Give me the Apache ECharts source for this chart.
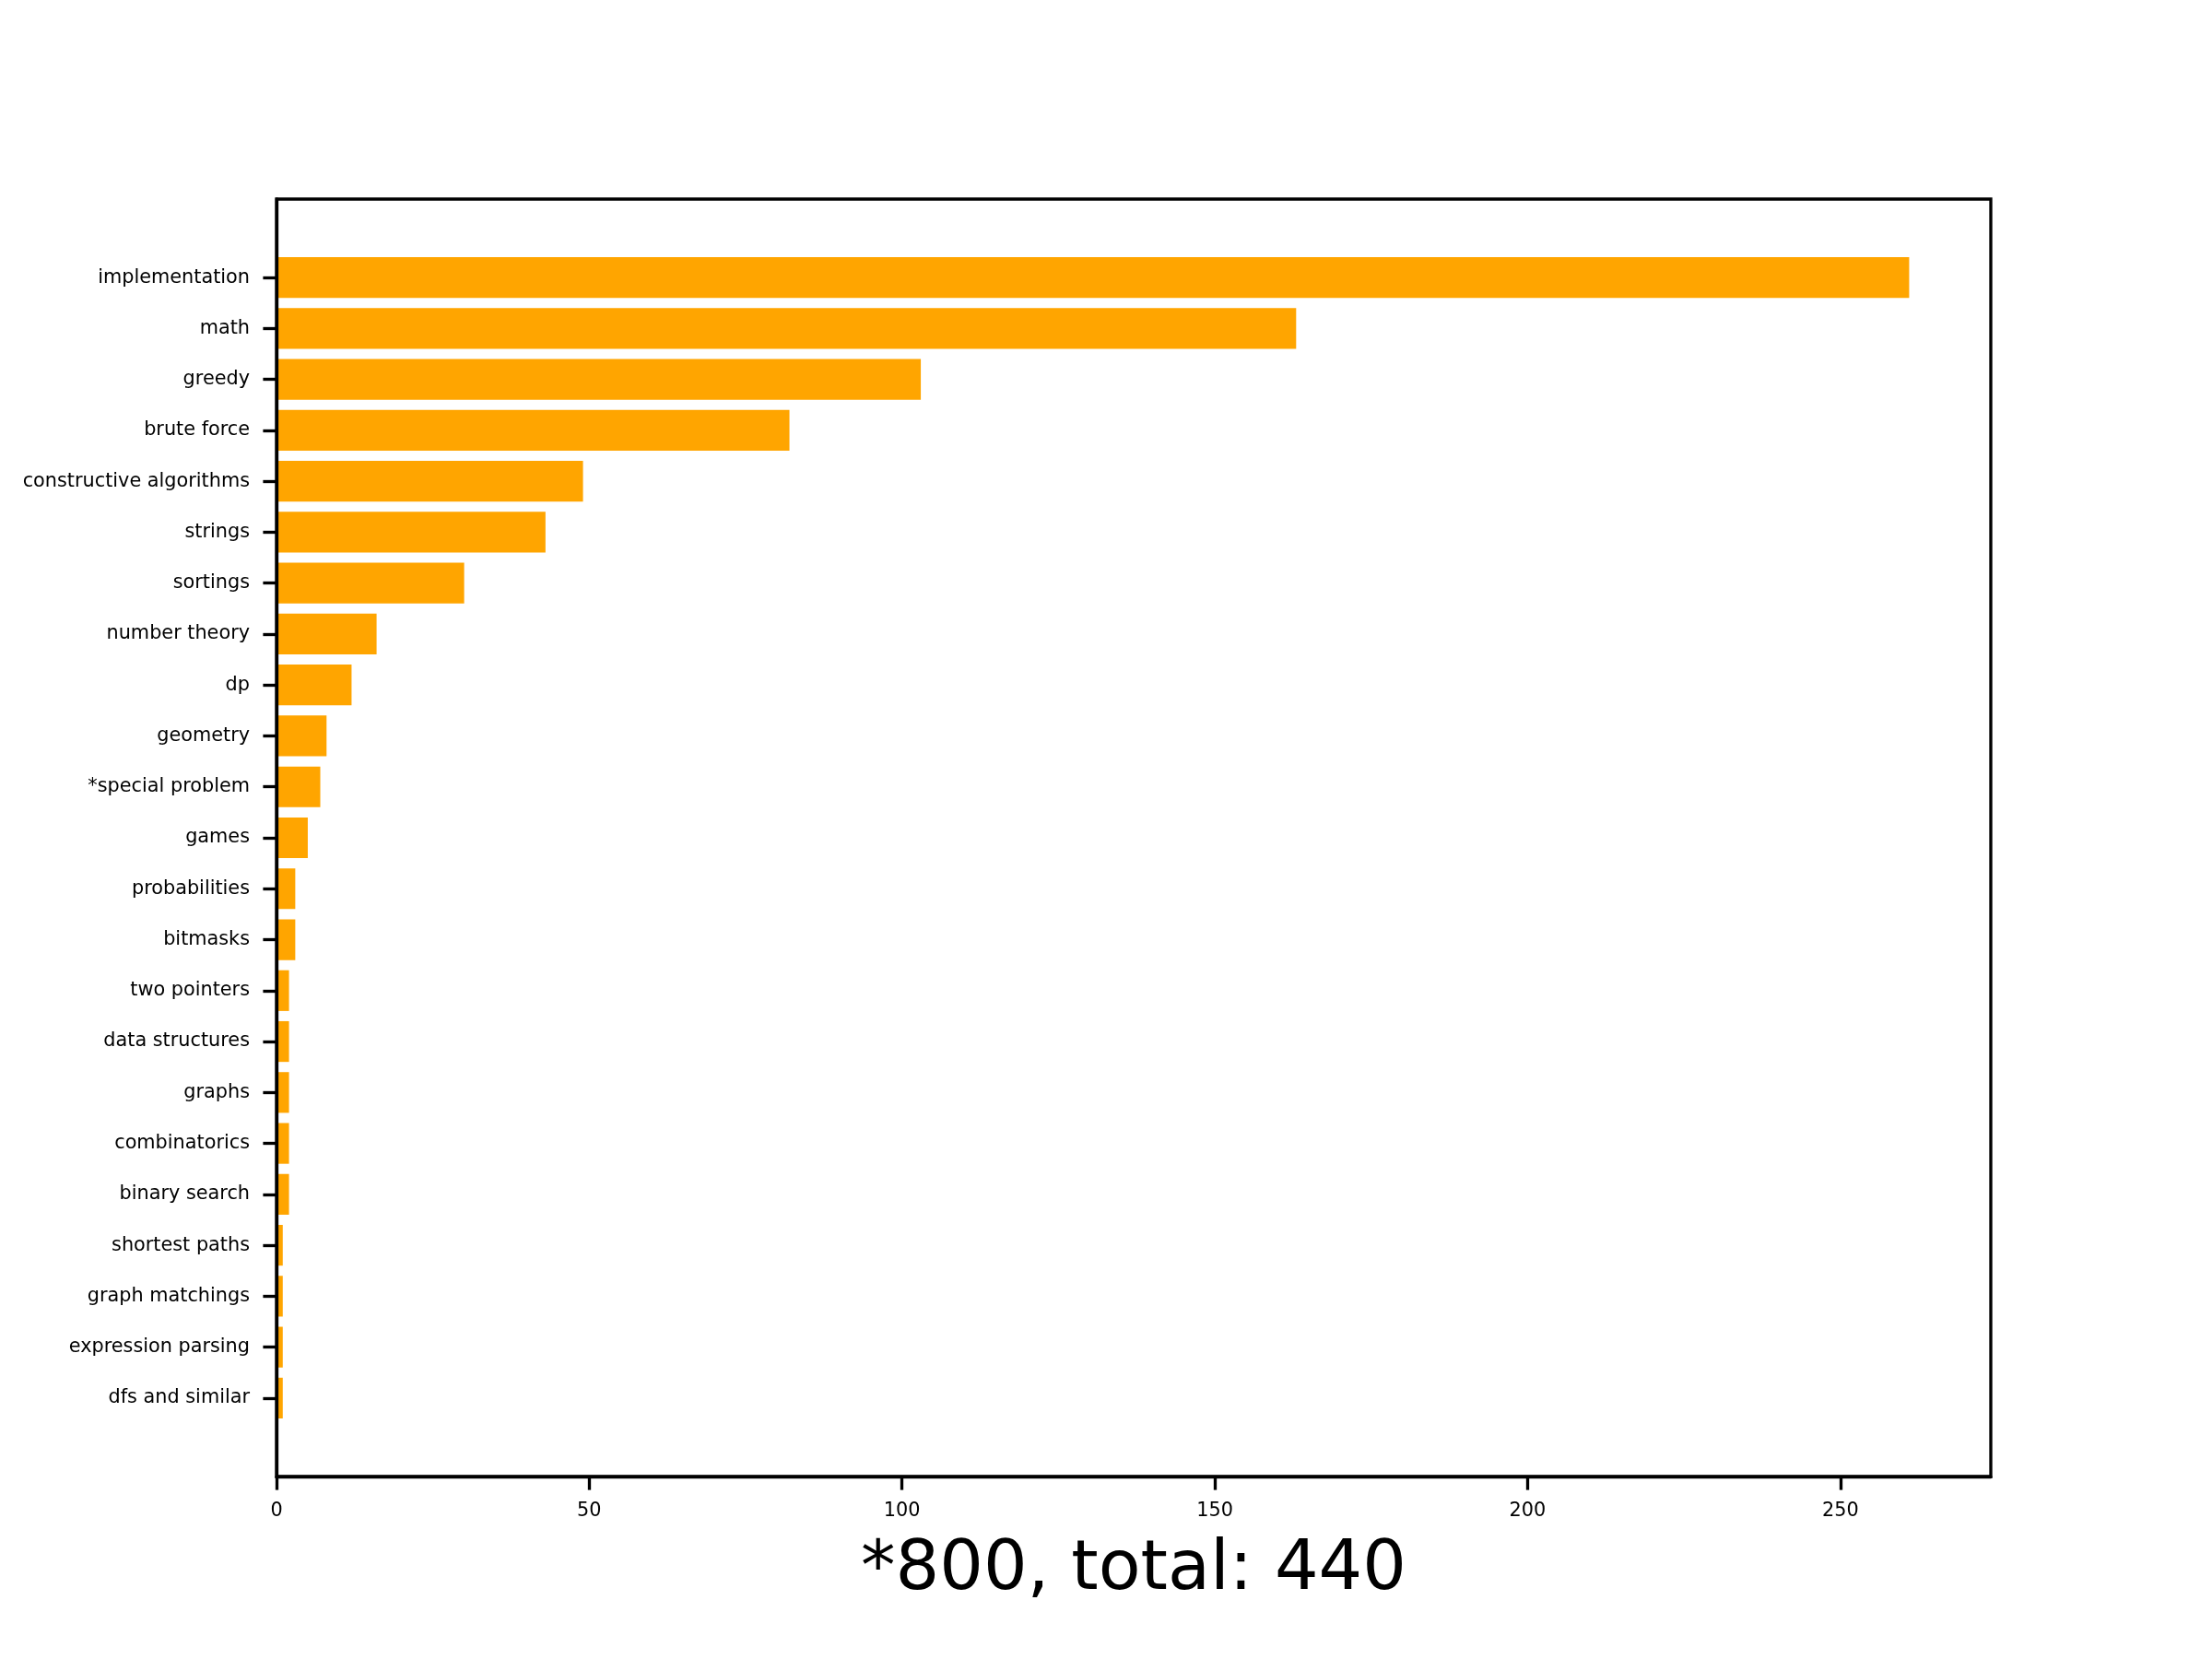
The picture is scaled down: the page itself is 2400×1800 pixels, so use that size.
<!DOCTYPE html>
<html>
<head>
<meta charset="utf-8">
<script src="https://cdn.jsdelivr.net/npm/echarts@6/dist/echarts.min.js"></script>
<style>html,body{margin:0;padding:0;background:#fff;}#c{width:2400px;height:1800px;}</style>
</head>
<body>
<div id="c"></div>
<script>
const categories = ["implementation","math","greedy","brute force","constructive algorithms","strings","sortings","number theory","dp","geometry","*special problem","games","probabilities","bitmasks","two pointers","data structures","graphs","combinatorics","binary search","shortest paths","graph matchings","expression parsing","dfs and similar"];
const counts = [261,163,103,82,49,43,30,16,12,8,7,5,3,3,2,2,2,2,2,1,1,1,1];
const xTicks = [0,50,100,150,200,250];
const xLabel = "*800, total: 440";

const FONT = "DejaVu Sans";
const xMax = Math.max(...counts) * 1.05;
const chart = echarts.init(document.getElementById('c'));
const lw = 3.33, tl = 14.6;
chart.setOption({
  animation: false,
  backgroundColor: '#fff',
  grid: [
    {left: 300, right: 240, top: 216, bottom: 198, show: true, borderColor: '#000', borderWidth: lw, backgroundColor: 'transparent', containLabel: false},
    {left: 300, right: 240, top: 273.47, bottom: 255.47, containLabel: false}
  ],
  xAxis: [
    {type: 'value', gridIndex: 0, min: 0, max: xMax, interval: 50, z: 10,
     axisLine: {show: true, lineStyle: {color: '#000', width: lw}},
     axisTick: {show: true, length: tl, customValues: xTicks, lineStyle: {color: '#000', width: lw}},
     axisLabel: {show: true, fontFamily: FONT, fontSize: 20.8, color: '#000', margin: 27,
       customValues: xTicks, formatter: v => String(v)},
     splitLine: {show: false},
     name: xLabel, nameLocation: 'middle', nameGap: 65,
     nameTextStyle: {fontFamily: FONT, fontSize: 75, color: '#000'}},
    {type: 'value', gridIndex: 1, min: 0, max: xMax, show: false}
  ],
  yAxis: [
    {type: 'category', gridIndex: 1, data: categories, inverse: true, z: 10,
     axisLine: {show: false},
     axisTick: {show: true, alignWithLabel: true, length: tl, lineStyle: {color: '#000', width: lw}},
     axisLabel: {fontFamily: FONT, fontSize: 20.8, color: '#000', margin: 29, padding: [6, 0, 0, 0]},
     splitLine: {show: false}},
    {type: 'value', gridIndex: 0, min: 0, max: 1, z: 10,
     axisLine: {show: true, lineStyle: {color: '#000', width: lw}},
     axisTick: {show: false}, axisLabel: {show: false}, splitLine: {show: false}}
  ],
  series: [{
    type: 'bar', xAxisIndex: 1, yAxisIndex: 0, data: counts,
    barCategoryGap: '20%', itemStyle: {color: '#FFA500'}, z: 2
  }]
});
</script>
</body>
</html>
